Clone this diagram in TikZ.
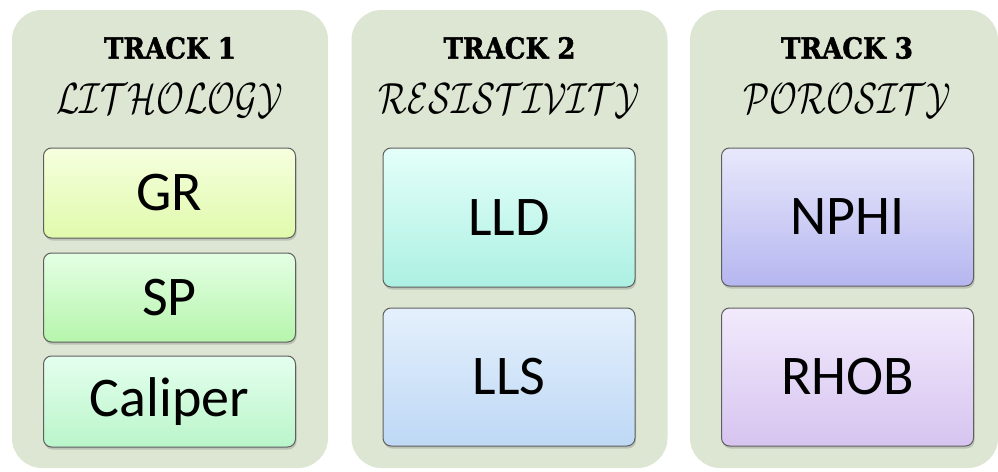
\documentclass[tikz,border=0pt]{standalone}
\usepackage{fontspec}
\setmainfont{Carlito}
\newfontfamily\titlefont[BoldFeatures={FakeBold=1.5}]{DejaVu Serif Condensed}
\usetikzlibrary{shadows}
\definecolor{panelfill}{RGB}{221,230,210}
\definecolor{boxline}{RGB}{95,95,95}
\definecolor{grT}{RGB}{246,255,222}\definecolor{grB}{RGB}{224,250,172}
\definecolor{spT}{RGB}{228,255,228}\definecolor{spB}{RGB}{182,245,172}
\definecolor{caT}{RGB}{228,255,238}\definecolor{caB}{RGB}{186,245,202}
\definecolor{llT}{RGB}{228,255,250}\definecolor{llB}{RGB}{172,240,226}
\definecolor{lsT}{RGB}{228,240,252}\definecolor{lsB}{RGB}{190,216,245}
\definecolor{npT}{RGB}{232,232,252}\definecolor{npB}{RGB}{182,182,240}
\definecolor{rhT}{RGB}{242,234,252}\definecolor{rhB}{RGB}{214,196,240}
\newcommand{\scriptword}[1]{\scalebox{1.36}[1.75]{$\mathcal{#1}$}}
\tikzset{
  panel/.style={fill=panelfill, draw=none, rounded corners=30pt, inner sep=0pt},
  logbox/.style={draw=boxline, line width=1pt, rounded corners=8pt, inner sep=0pt,
    minimum width=252pt, font=\fontsize{56}{60}\selectfont,
    drop shadow={opacity=0.35, shadow xshift=1pt, shadow yshift=-2.5pt}},
  tracktitle/.style={font=\titlefont\bfseries\fontsize{29}{32}\selectfont, inner sep=0pt},
  trackname/.style={font=\fontsize{34}{36}\selectfont, inner sep=0pt}
}
\begin{document}
\begin{tikzpicture}[x=1pt,y=-1pt]
\useasboundingbox (0,0) rectangle (998,471);
% panels
\node[panel, minimum width=316pt, minimum height=458pt] (p1) at (170,239) {};
\node[panel, minimum width=316pt, minimum height=458pt] (p2) at (509.5,239) {};
\node[panel, minimum width=308pt, minimum height=458pt] (p3) at (844,239) {};
% titles
\node[tracktitle] (t1) at (170,48) {TRACK 1};
\node[tracktitle] (t2) at (509.5,48) {TRACK 2};
\node[tracktitle] (t3) at (847,48) {TRACK 3};
\node[trackname] (n1) at (170,101) {\scriptword{LITHOLOGY}};
\node[trackname] (n2) at (509.5,101) {\scriptword{RESISTIVITY}};
\node[trackname] (n3) at (847,101) {\scriptword{POROSITY}};
% boxes
\node[logbox, minimum height=90pt, top color=grT, bottom color=grB] (gr) at (169.5,193) {GR};
\node[logbox, minimum height=89pt, top color=spT, bottom color=spB] (sp) at (169.5,297.5) {SP};
\node[logbox, minimum height=91pt, top color=caT, bottom color=caB] (ca) at (169.5,401.5) {Caliper};
\node[logbox, minimum height=139pt, top color=llT, bottom color=llB] (lld) at (509,217.5) {LLD};
\node[logbox, minimum height=138pt, top color=lsT, bottom color=lsB] (lls) at (509,377) {LLS};
\node[logbox, minimum height=138pt, top color=npT, bottom color=npB] (nphi) at (847.5,217) {NPHI};
\node[logbox, minimum height=138pt, top color=rhT, bottom color=rhB] (rhob) at (847.5,377) {RHOB};
\end{tikzpicture}
\end{document}
